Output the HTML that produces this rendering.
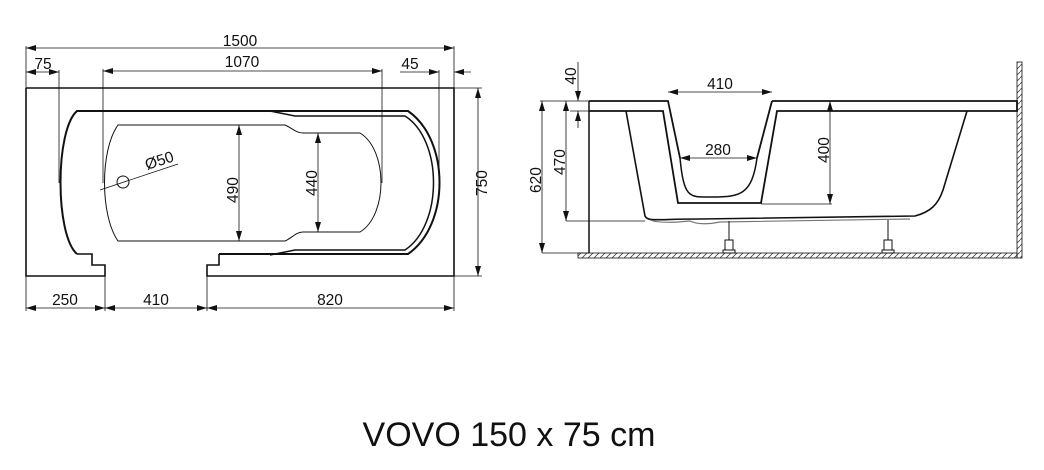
<!DOCTYPE html>
<html><head><meta charset="utf-8"><style>
html,body{margin:0;padding:0;background:#fff;}
svg{display:block;}
text{font-family:"Liberation Sans",Arial,sans-serif;fill:#111;}
</style></head><body>
<svg width="1044" height="470" viewBox="0 0 1044 470" xmlns="http://www.w3.org/2000/svg">
<defs>
<marker id="a" viewBox="0 0 10 6" refX="10" refY="3" markerWidth="10" markerHeight="6" orient="auto-start-reverse" markerUnits="userSpaceOnUse"><path d="M0,0 L10,3 L0,6 z" fill="#111"/></marker>
<pattern id="h" width="6" height="6" patternUnits="userSpaceOnUse"><path d="M0,6 L6,0" stroke="#444" stroke-width="0.8"/></pattern>
</defs>
<g fill="none" stroke="#111">
<path d="M26,88 H454 V276 H207 V265 H219 V254" stroke-width="1.6"/>
<path d="M26,88 V276 H105 V265 H92 V254 H77" stroke-width="1.6"/>
<path d="M219,254 H408 C450,225 450,140 408,111 H77 C55,130 55,235 77,254" stroke-width="2"/>
<path d="M270,111 L295,116 H405 C443,140 443,225 405,250 H295 L270,255" stroke-width="1.5"/>
<path d="M118,125 H285 C292,128 296,133 303,133 H360 C388,150 388,215 360,232 H303 C296,232 292,238 285,241 H118 C100,215 100,150 118,125 Z" stroke-width="1"/>
<circle cx="123" cy="182" r="6" stroke-width="1"/>
<line x1="100" y1="190" x2="178" y2="164" stroke-width="0.8"/>
<g stroke-width="0.8">
<line x1="26" y1="46" x2="26" y2="88"/><line x1="454" y1="46" x2="454" y2="88"/>
<line x1="26" y1="48" x2="454" y2="48" marker-start="url(#a)" marker-end="url(#a)"/>
<line x1="26" y1="72" x2="59" y2="72" marker-start="url(#a)" marker-end="url(#a)"/>
<line x1="59" y1="70" x2="59" y2="183"/>
<line x1="103" y1="69" x2="103" y2="183"/><line x1="382" y1="69" x2="382" y2="183"/>
<line x1="103" y1="71" x2="382" y2="71" marker-start="url(#a)" marker-end="url(#a)"/>
<line x1="400" y1="72" x2="439" y2="72" marker-end="url(#a)"/>
<line x1="471" y1="72" x2="454" y2="72" marker-end="url(#a)"/>
<line x1="439" y1="70" x2="439" y2="183"/>
<line x1="454" y1="88" x2="482" y2="88"/><line x1="454" y1="276" x2="482" y2="276"/>
<line x1="478" y1="88" x2="478" y2="276" marker-start="url(#a)" marker-end="url(#a)"/>
<line x1="239" y1="125" x2="239" y2="241" marker-start="url(#a)" marker-end="url(#a)"/>
<line x1="318" y1="133" x2="318" y2="232" marker-start="url(#a)" marker-end="url(#a)"/>
<line x1="26" y1="276" x2="26" y2="311"/><line x1="105" y1="276" x2="105" y2="311"/>
<line x1="207" y1="276" x2="207" y2="311"/><line x1="454" y1="276" x2="454" y2="311"/>
<line x1="26" y1="308" x2="105" y2="308" marker-start="url(#a)" marker-end="url(#a)"/>
<line x1="105" y1="308" x2="207" y2="308" marker-start="url(#a)" marker-end="url(#a)"/>
<line x1="207" y1="308" x2="454" y2="308" marker-start="url(#a)" marker-end="url(#a)"/>
</g>
<rect x="578" y="253" width="439" height="5" fill="url(#h)" stroke-width="0.8"/>
<rect x="1017" y="62" width="5" height="196" fill="url(#h)" stroke-width="0.8"/>
<line x1="589" y1="101" x2="589" y2="253" stroke-width="1.5"/>
<path d="M589,101 H668 L680,158 M772,101 L757,158 M772,101 H1017 V111 H777 L761,203 H678 L663,111 H589" stroke-width="1.8"/>
<path d="M680,158 C684,200 690,197 712,197 C740,197 752,195 757,158" stroke-width="1.5"/>
<path d="M626,111 L645,216 C648,222 655,219 700,219 L915,216 C930,212 938,205 943,190 L967,111" stroke-width="1.6"/>
<path d="M650,220 Q660,224 690,221 Q700,226 720,222 L910,219" stroke="#777" stroke-width="1.2"/>
<g stroke-width="1">
<line x1="729" y1="221" x2="729" y2="240"/><rect x="725" y="240" width="8" height="10"/><rect x="723" y="250" width="12" height="3"/>
<line x1="888" y1="220" x2="888" y2="240"/><rect x="884" y="240" width="8" height="10"/><rect x="882" y="250" width="12" height="3"/>
</g>
<g stroke-width="0.8">
<line x1="540" y1="101" x2="589" y2="101"/>
<line x1="570" y1="111" x2="589" y2="111"/>
<line x1="578" y1="62" x2="578" y2="101" marker-end="url(#a)"/>
<line x1="578" y1="128" x2="578" y2="111" marker-end="url(#a)"/>
<line x1="542" y1="101" x2="542" y2="253" marker-start="url(#a)" marker-end="url(#a)"/>
<line x1="542" y1="253" x2="589" y2="253"/>
<line x1="566" y1="101" x2="566" y2="221" marker-start="url(#a)" marker-end="url(#a)"/>
<line x1="566" y1="221" x2="645" y2="221"/>
<line x1="668" y1="92" x2="772" y2="92" marker-start="url(#a)" marker-end="url(#a)"/>
<line x1="680" y1="158" x2="757" y2="158" marker-start="url(#a)" marker-end="url(#a)"/>
<line x1="830" y1="101" x2="830" y2="204" marker-start="url(#a)" marker-end="url(#a)"/>
<line x1="761" y1="204" x2="832" y2="204"/>
</g>
</g>
<g font-size="15.5">
<text x="240" y="46" text-anchor="middle">1500</text>
<text x="43" y="69" text-anchor="middle">75</text>
<text x="242" y="67" text-anchor="middle">1070</text>
<text x="410" y="69" text-anchor="middle">45</text>
<text x="65" y="305" text-anchor="middle">250</text>
<text x="156" y="305" text-anchor="middle">410</text>
<text x="330" y="305" text-anchor="middle">820</text>
<text transform="translate(487,183) rotate(-90)" text-anchor="middle">750</text>
<text transform="translate(238,190) rotate(-90)" text-anchor="middle">490</text>
<text transform="translate(317,183) rotate(-90)" text-anchor="middle">440</text>
<text transform="translate(147,170) rotate(-18)">Ø50</text>
<text x="720" y="89" text-anchor="middle">410</text>
<text x="718" y="155" text-anchor="middle">280</text>
<text transform="translate(576,76) rotate(-90)" text-anchor="middle">40</text>
<text transform="translate(541,180) rotate(-90)" text-anchor="middle">620</text>
<text transform="translate(565,162) rotate(-90)" text-anchor="middle">470</text>
<text transform="translate(829,150) rotate(-90)" text-anchor="middle">400</text>
</g>
<text x="509" y="446" font-size="34" text-anchor="middle">VOVO 150 x 75 cm</text>
</svg>
</body></html>
